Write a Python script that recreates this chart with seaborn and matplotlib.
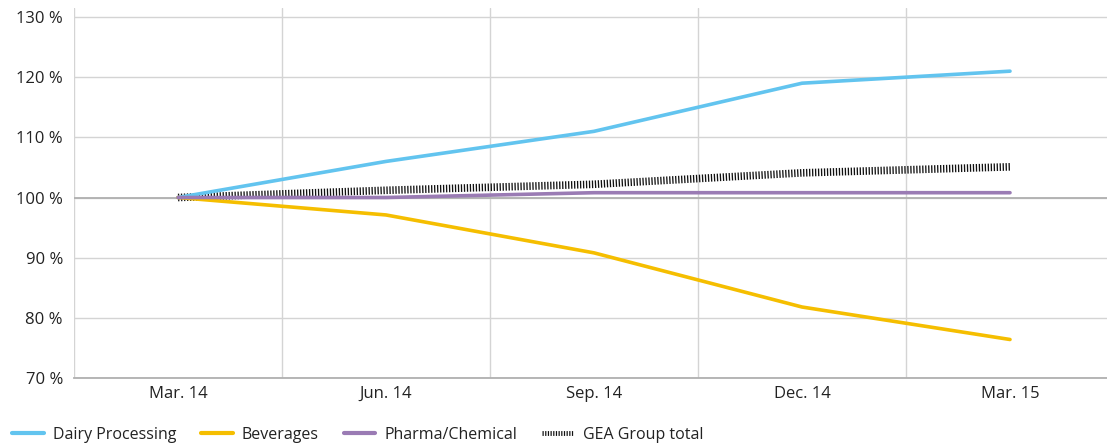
import pandas as pd
import seaborn as sns
import matplotlib.pyplot as plt
from matplotlib.ticker import FixedLocator

quarters = ["Mar. 14", "Jun. 14", "Sep. 14", "Dec. 14", "Mar. 15"]
dairy = [100, 106, 111, 119, 121]
beverages = [100, 97.1, 90.8, 81.8, 76.4]
pharma = [100, 100.0, 100.8, 100.8, 100.8]
gea_total = [100, 101.2, 102.2, 104.1, 105.1]

series_names = ["Dairy Processing", "Beverages", "Pharma/Chemical", "GEA Group total"]
colors = ["#62c4ef", "#f5be00", "#9a7bb4", "#111111"]

rows = []
for name, vals in zip(series_names, [dairy, beverages, pharma, gea_total]):
    for q, v in zip(quarters, vals):
        rows.append({"quarter": q, "value": v, "series": name})
df = pd.DataFrame(rows)

sns.set_style("white")
plt.rcParams['font.family'] = ['Open Sans', 'DejaVu Sans']

fig = plt.figure(figsize=(11.07, 4.46), dpi=100)
ax = fig.add_axes([74 / 1107, 1 - 378 / 446, (1114 - 74) / 1107, (378 - 8) / 446])

sns.lineplot(data=df, x="quarter", y="value", hue="series", palette=colors,
             hue_order=series_names, sort=False, linewidth=2.6, ax=ax, legend=False)

# hatched look for the group total
gea_line = ax.get_lines()[3]
gea_line.set_linewidth(5.5)
gea_line.set_dashes([0.17, 0.22])
gea_line.set_dash_capstyle("butt")
gea_line.set_zorder(1.9)
for ln in ax.get_lines()[:3]:
    ln.set_solid_capstyle("round")

ax.set_xlim(-0.5, 4.5)
ax.set_ylim(70, 131.5)
ax.set_yticks(range(70, 131, 10))
ax.set_yticklabels([f"{v} %" for v in range(70, 131, 10)])
ax.yaxis.grid(True, color="#d4d4d4", linewidth=1)
ax.axhline(100, color="#b0b0b0", linewidth=1.3, zorder=1)

ax.xaxis.set_minor_locator(FixedLocator([i - 0.5 for i in range(6)]))
ax.xaxis.grid(True, which="minor", color="#d4d4d4", linewidth=1)
ax.tick_params(axis="x", which="minor", length=19.5, color="#d4d4d4", width=1, direction="out")
ax.tick_params(axis="x", which="major", length=0, pad=6, labelsize=12, labelcolor="#222222")
ax.tick_params(axis="y", length=0, pad=8, labelsize=12, labelcolor="#222222")
ax.set_xlabel("")
ax.set_ylabel("")

for side in ["top", "right", "left"]:
    ax.spines[side].set_visible(False)
ax.spines["bottom"].set_color("#b0b0b0")
ax.spines["bottom"].set_linewidth(1.3)

handles = []
for i, name in enumerate(series_names):
    if i == 3:
        h, = ax.plot([], [], color=colors[i], linewidth=3.5, dashes=[0.25, 0.3],
                     dash_capstyle="butt", label=name)
    else:
        h, = ax.plot([], [], color=colors[i], linewidth=3, solid_capstyle="round", label=name)
    handles.append(h)

fig.legend(handles=handles, loc="lower left", bbox_to_anchor=(-0.002, -0.025), ncol=4,
           frameon=False, fontsize=11.5, handlelength=2.0, handletextpad=0.55,
           columnspacing=1.55, labelcolor="#222222")

fig.savefig("out.png", dpi=100)
